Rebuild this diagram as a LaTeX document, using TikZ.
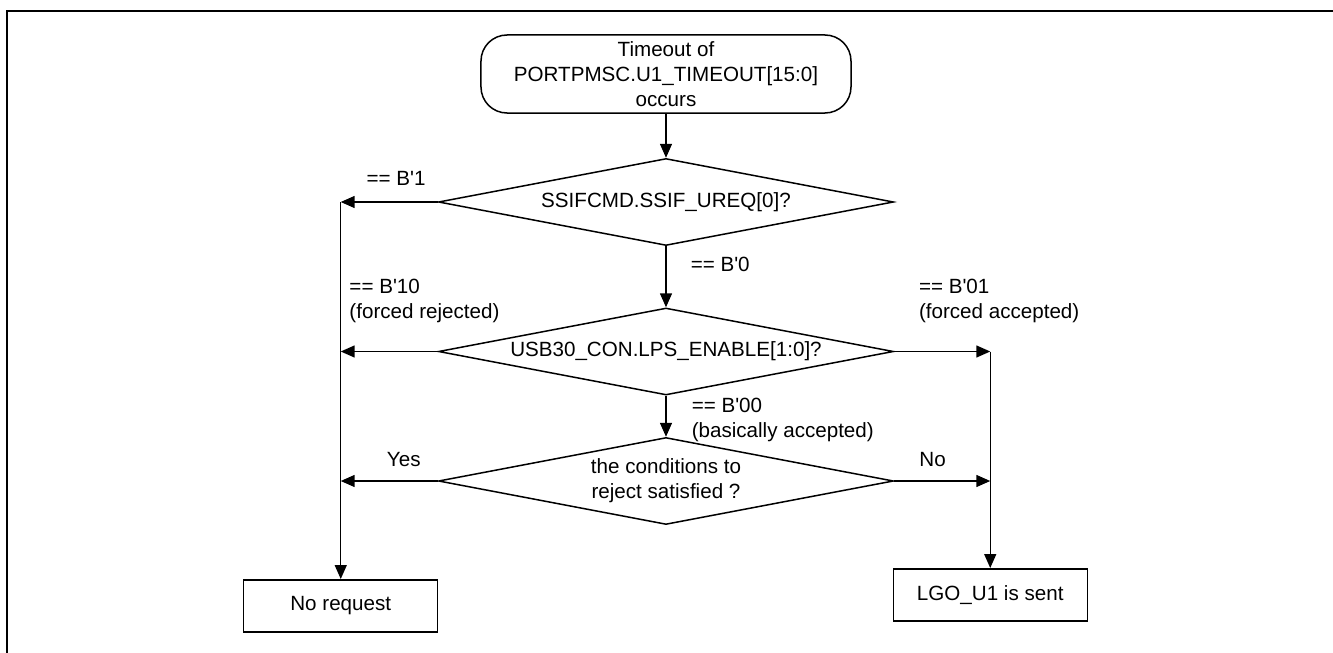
\documentclass[tikz,border=0pt]{standalone}
\usepackage{fontspec}
\setmainfont{Liberation Sans}
\usetikzlibrary{arrows.meta,positioning,shapes.geometric}
\newcommand{\bapo}{\textquotesingle}

\begin{document}
\begin{tikzpicture}[
    event/.style={draw, rounded corners=13pt, minimum width=185pt, minimum height=39pt, inner sep=0pt, align=center},
    decision/.style={draw, diamond, aspect=5.2, minimum width=227.5pt, minimum height=43.5pt, inner sep=0pt, align=center},
    result/.style={draw, minimum width=97pt, minimum height=26pt, inner sep=0pt},
    lbl/.style={inner sep=0pt, align=left},
    font=\fontsize{10.3}{12.4}\selectfont,
    line width=0.75pt,
    >={Triangle[length=7pt, width=6pt]},
    node distance=1cm
]
    \useasboundingbox (-333pt,-289.5pt) rectangle (333.5pt,37pt);
    \draw[line width=1pt] (-329.5pt,-289.5pt) |- (333.5pt,31.5pt);

    \node[event] (start) at (0,0) {Timeout of\\PORTPMSC.U1\_TIMEOUT[15:0]\\occurs};
    \node[decision, below=22pt of start] (ureq) {SSIFCMD.SSIF\_UREQ[0]?};
    \node[decision, below=30.5pt of ureq] (lps) {USB30\_CON.LPS\_ENABLE[1:0]?};
    \node[decision, below=20.5pt of lps] (cond) {the conditions to\\reject satisfied ?};

    \coordinate[left=48.5pt of ureq.west] (lj1);
    \coordinate[left=48.5pt of lps.west] (lj2);
    \coordinate[left=48.5pt of cond.west] (lj3);
    \coordinate[right=48pt of lps.east] (rj2);
    \coordinate[right=48pt of cond.east] (rj3);

    \node[result, below=49pt of lj3] (norq) {No request};
    \node[result, below=43.5pt of rj3] (sent) {LGO\_U1 is sent};

    \node[lbl, above right=14pt and 4pt of lj2] (l10) {== B\bapo10\\(forced rejected)};
    \node[lbl, above right=14pt and 12pt of lps.east] (l01) {== B\bapo01\\(forced accepted)};
    \node[lbl, below right=1pt and 12.5pt of lps.south] (l00) {== B\bapo00\\(basically accepted)};

    \draw[->] (start) -- (ureq);
    \draw[->] (ureq) -- node[lbl, right=12pt, pos=0.3] (l0) {== B\bapo0} (lps);
    \draw[->] (lps) -- (cond);
    \draw[->] (ureq.west) -- node[lbl, above=8pt, pos=0.43] (l1) {== B\bapo1} (lj1);
    \draw[->] (lps.west) -- (lj2);
    \draw[->] (cond.west) -- node[lbl, above=7pt, pos=0.35] (lyes) {Yes} (lj3);
    \draw[->] (lps.east) -- (rj2);
    \draw[->] (cond.east) -- node[lbl, above=7pt, pos=0.4] (lno) {No} (rj3);
    \draw[->] (lj1) -- (norq);
    \draw[->] (rj2) -- (sent);
\end{tikzpicture}
\end{document}
